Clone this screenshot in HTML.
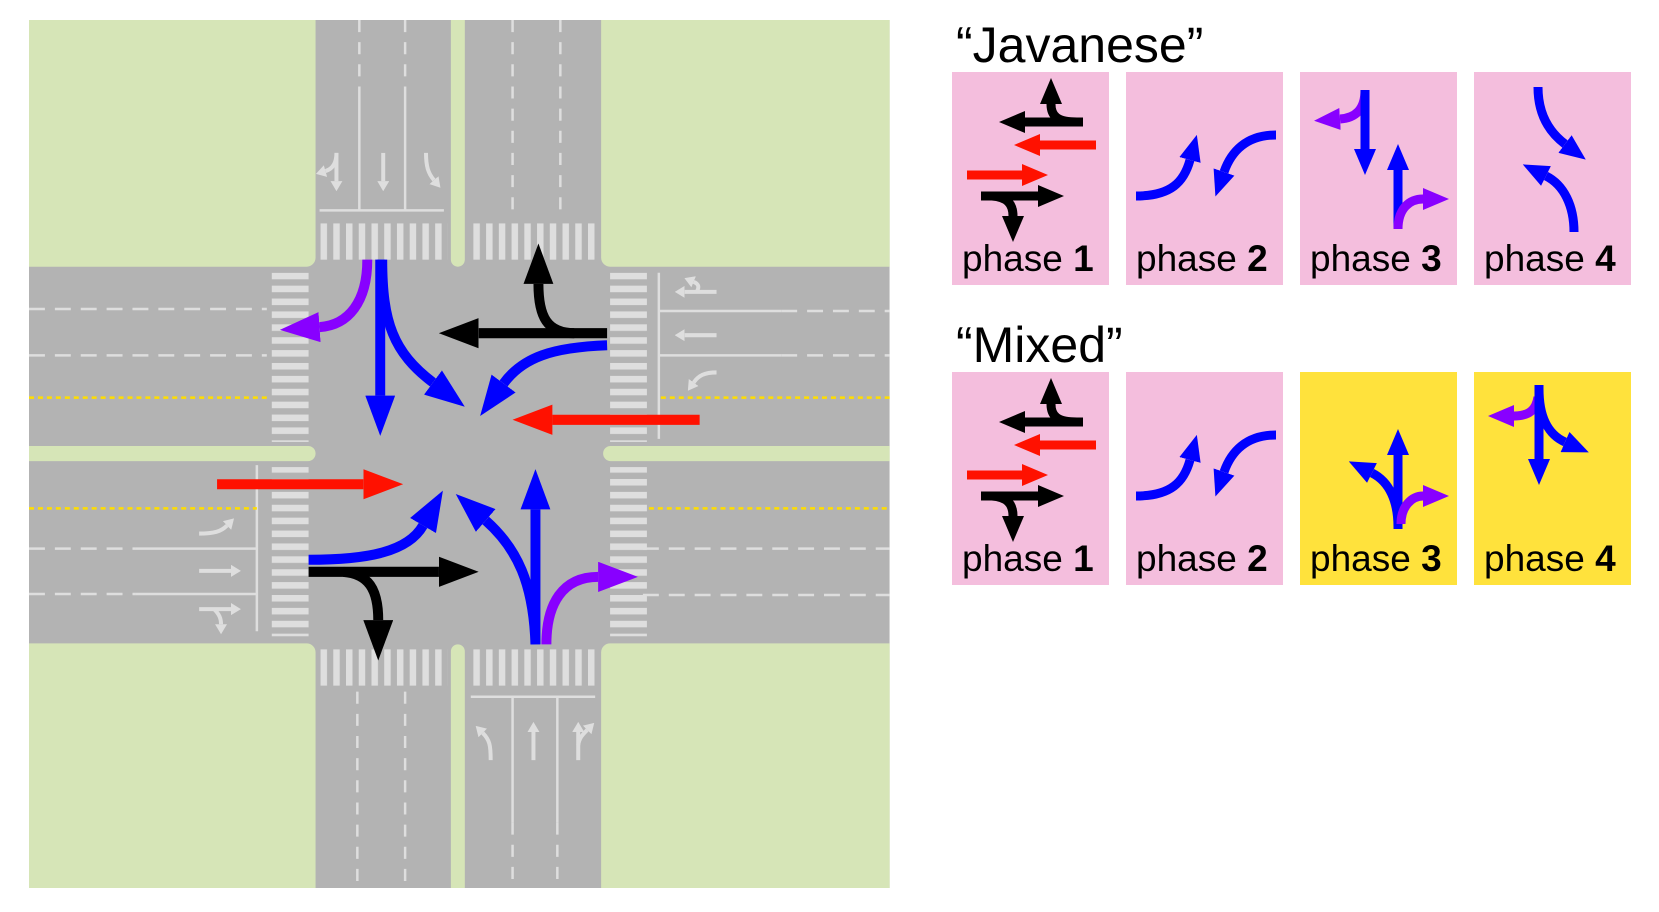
<!DOCTYPE html>
<html><head><meta charset="utf-8"><style>
html,body{margin:0;padding:0;background:#fff;}
svg{display:block;}
text{font-family:"Liberation Sans",sans-serif;}
</style></head><body>
<svg width="1659" height="912" viewBox="0 0 1659 912" xmlns="http://www.w3.org/2000/svg">
<defs>
<clipPath id="cl"><rect x="29" y="20" width="865" height="862"/></clipPath>
<marker id="hb" markerUnits="userSpaceOnUse" markerWidth="40" markerHeight="30" refX="0" refY="15" orient="auto"><path d="M0,0L40,15L0,30z" fill="#0000ff"/></marker>
<marker id="hk" markerUnits="userSpaceOnUse" markerWidth="40" markerHeight="30" refX="0" refY="15" orient="auto"><path d="M0,0L40,15L0,30z" fill="#000"/></marker>
<marker id="hr" markerUnits="userSpaceOnUse" markerWidth="40" markerHeight="30" refX="0" refY="15" orient="auto"><path d="M0,0L40,15L0,30z" fill="#ff1100"/></marker>
<marker id="hp" markerUnits="userSpaceOnUse" markerWidth="40" markerHeight="30" refX="0" refY="15" orient="auto"><path d="M0,0L40,15L0,30z" fill="#8800ff"/></marker>
<marker id="sb" markerUnits="userSpaceOnUse" markerWidth="26" markerHeight="22" refX="0" refY="11" orient="auto"><path d="M0,0L26,11L0,22z" fill="#0000ff"/></marker>
<marker id="sk" markerUnits="userSpaceOnUse" markerWidth="26" markerHeight="22" refX="0" refY="11" orient="auto"><path d="M0,0L26,11L0,22z" fill="#000"/></marker>
<marker id="sr" markerUnits="userSpaceOnUse" markerWidth="26" markerHeight="22" refX="0" refY="11" orient="auto"><path d="M0,0L26,11L0,22z" fill="#ff1100"/></marker>
<marker id="sp" markerUnits="userSpaceOnUse" markerWidth="26" markerHeight="22" refX="0" refY="11" orient="auto"><path d="M0,0L26,11L0,22z" fill="#8800ff"/></marker>
<marker id="gh" markerUnits="userSpaceOnUse" markerWidth="10" markerHeight="12" refX="0" refY="6" orient="auto"><path d="M0,0L10,6L0,12z" fill="#dedede"/></marker>
<pattern id="vs" x="322" y="0" width="12.8" height="10" patternUnits="userSpaceOnUse"><rect x="0" y="0" width="6.5" height="10" fill="#dedede"/></pattern>
<pattern id="hs" x="0" y="271" width="10" height="12.8" patternUnits="userSpaceOnUse"><rect x="0" y="0" width="10" height="6.5" fill="#dedede"/></pattern>
</defs>

<g transform="translate(0.145,-0.14) scale(0.995,1.007)">
<g clip-path="url(#cl)">
<rect x="29" y="20" width="865" height="862" fill="#b3b3b3"/>
<g fill="#d6e5b7">
<rect x="10" y="0" width="307" height="265" rx="9"/>
<rect x="604" y="0" width="310" height="265" rx="9"/>
<rect x="10" y="639" width="307" height="260" rx="9"/>
<rect x="604" y="639" width="310" height="260" rx="9"/>
<rect x="453" y="0" width="14" height="265" rx="7"/>
<rect x="453" y="640" width="14" height="260" rx="7"/>
<rect x="0" y="443" width="317" height="15" rx="7.5"/>
<rect x="606" y="443" width="300" height="15" rx="7.5"/>
</g>
</g>

<rect x="322" y="222" width="128" height="36" fill="url(#vs)"/>
<rect x="475" y="222" width="128" height="36" fill="url(#vs)"/>
<rect x="322" y="645" width="128" height="36" fill="url(#vs)"/>
<rect x="475" y="645" width="128" height="36" fill="url(#vs)"/>
<rect x="273" y="271" width="37" height="168" fill="url(#hs)"/>
<rect x="273" y="464" width="37" height="168" fill="url(#hs)"/>
<rect x="613" y="271" width="37" height="168" fill="url(#hs)"/>
<rect x="613" y="464" width="37" height="168" fill="url(#hs)"/>

<g stroke="#dedede" stroke-width="2.5" fill="none">
<path d="M361,20V87M407,20V87" stroke-dasharray="12,10"/>
<path d="M361,87V208M407,87V208M321,209H446"/>
<path d="M515,20V215M563,20V215" stroke-dasharray="12,10"/>
<path d="M359,687V882M407,687V882" stroke-dasharray="12,10"/>
<path d="M473,692H598M515,692V817M560,692V817"/>
<path d="M515,817V882M560,817V882" stroke-dasharray="12,10"/>
<path d="M29,307H268M29,353H268" stroke-dasharray="16,10"/>
<path d="M785,309H894M785,353H894" stroke-dasharray="16,10"/>
<path d="M662,309H785M662,353H785M662,271V436"/>
<path d="M29,545H136M29,590H136" stroke-dasharray="16,10"/>
<path d="M136,545H257M136,590H257M258,462V627"/>
<path d="M646,545H894M646,591H894" stroke-dasharray="16,10"/>
</g>
<g stroke="#ffdd00" stroke-width="2.5" stroke-dasharray="5,4" fill="none">
<path d="M29,395H268M664,395H894M29,505H258M652,505H894"/>
</g>

<g stroke="#dedede" stroke-width="4" fill="none" marker-end="url(#gh)">
<path d="M338,152V180"/><path d="M338,152C338,162 334,168 327,170"/>
<path d="M385,152V180"/>
<path d="M428,152C428,165 430,172 436,179"/>
<path d="M720,290H688"/><path d="M700,290C703,285 702,282 697,280"/>
<path d="M720,333H688"/>
<path d="M720,370C708,370 702,373 697,380"/>
<path d="M200,530C215,530 222,528 228,522"/>
<path d="M200,567H232"/>
<path d="M200,605H232"/><path d="M215,605C220,610 222,614 222,620"/>
<path d="M493,755C493,740 492,735 485,728"/>
<path d="M536,755V727"/>
<path d="M581,755V727"/><path d="M581,740C582,733 585,730 590,725"/>
</g>

<g fill="none" stroke-width="10">
<path d="M369,258C369,300 350,323 321,325" stroke="#8800ff" marker-end="url(#hp)"/>
<path d="M382,258L382,393" stroke="#0000ff" marker-end="url(#hb)"/>
<path d="M384,258C384,320 395,350 435,380" stroke="#0000ff" marker-end="url(#hb)"/>
<path d="M610,331L481,331" stroke="#000" marker-end="url(#hk)"/>
<path d="M577,331C550,331 541,315 541,282" stroke="#000" marker-end="url(#hk)"/>
<path d="M610,343C555,345 525,355 506,381" stroke="#0000ff" marker-end="url(#hb)"/>
<path d="M703,417L555,417" stroke="#ff1100" marker-end="url(#hr)"/>
<path d="M218,481L365,481" stroke="#ff1100" marker-end="url(#hr)"/>
<path d="M310,556C370,556 410,548 425,522" stroke="#0000ff" marker-end="url(#hb)"/>
<path d="M310,568L441,568" stroke="#000" marker-end="url(#hk)"/>
<path d="M345,568C370,570 380,585 380,616" stroke="#000" marker-end="url(#hk)"/>
<path d="M538,640C536,580 520,545 488,517" stroke="#0000ff" marker-end="url(#hb)"/>
<path d="M538,640L538,506" stroke="#0000ff" marker-end="url(#hb)"/>
<path d="M549,640C549,600 565,573 601,573" stroke="#8800ff" marker-end="url(#hp)"/>
</g>
</g>

<text x="956" y="62" font-size="50" fill="#000">“Javanese”</text>
<text x="956" y="362" font-size="50" fill="#000">“Mixed”</text>

<!-- row 1 -->
<g transform="translate(952,72)">
<rect width="157" height="213" fill="#f4bedd"/>
<g fill="none" stroke-width="9">
<path d="M131,50L73,50" stroke="#000" marker-end="url(#sk)"/>
<path d="M125,50C105,50 99,44 99,32" stroke="#000" marker-end="url(#sk)"/>
<path d="M144,73L88,73" stroke="#ff1100" marker-end="url(#sr)"/>
<path d="M15,103L70,103" stroke="#ff1100" marker-end="url(#sr)"/>
<path d="M29,124L86,124" stroke="#000" marker-end="url(#sk)"/>
<path d="M40,124C55,125 61,132 61,144" stroke="#000" marker-end="url(#sk)"/>
</g>
<text x="10" y="199" font-size="37">phase <tspan font-weight="bold">1</tspan></text>
</g>
<g transform="translate(1126,72)">
<rect width="157" height="213" fill="#f4bedd"/>
<g fill="none" stroke-width="9">
<path d="M10,124C45,124 58,110 64,88" stroke="#0000ff" marker-end="url(#sb)"/>
<path d="M150,63C120,63 105,80 98,100" stroke="#0000ff" marker-end="url(#sb)"/>
</g>
<text x="10" y="199" font-size="37">phase <tspan font-weight="bold">2</tspan></text>
</g>
<g transform="translate(1300,72)">
<rect width="157" height="213" fill="#f4bedd"/>
<g fill="none" stroke-width="9">
<path d="M65,18C65,38 55,46 40,47" stroke="#8800ff" marker-end="url(#sp)"/>
<path d="M65,18L65,77" stroke="#0000ff" marker-end="url(#sb)"/>
<path d="M98,157L98,98" stroke="#0000ff" marker-end="url(#sb)"/>
<path d="M98,157C98,136 110,127 123,127" stroke="#8800ff" marker-end="url(#sp)"/>
</g>
<text x="10" y="199" font-size="37">phase <tspan font-weight="bold">3</tspan></text>
</g>
<g transform="translate(1474,72)">
<rect width="157" height="213" fill="#f4bedd"/>
<g fill="none" stroke-width="9">
<path d="M64,15C64,42 75,60 91,72" stroke="#0000ff" marker-end="url(#sb)"/>
<path d="M100,160C100,134 90,113 72,104" stroke="#0000ff" marker-end="url(#sb)"/>
</g>
<text x="10" y="199" font-size="37">phase <tspan font-weight="bold">4</tspan></text>
</g>

<!-- row 2 -->
<g transform="translate(952,372)">
<rect width="157" height="213" fill="#f4bedd"/>
<g fill="none" stroke-width="9">
<path d="M131,50L73,50" stroke="#000" marker-end="url(#sk)"/>
<path d="M125,50C105,50 99,44 99,32" stroke="#000" marker-end="url(#sk)"/>
<path d="M144,73L88,73" stroke="#ff1100" marker-end="url(#sr)"/>
<path d="M15,103L70,103" stroke="#ff1100" marker-end="url(#sr)"/>
<path d="M29,124L86,124" stroke="#000" marker-end="url(#sk)"/>
<path d="M40,124C55,125 61,132 61,144" stroke="#000" marker-end="url(#sk)"/>
</g>
<text x="10" y="199" font-size="37">phase <tspan font-weight="bold">1</tspan></text>
</g>
<g transform="translate(1126,372)">
<rect width="157" height="213" fill="#f4bedd"/>
<g fill="none" stroke-width="9">
<path d="M10,124C45,124 58,110 64,88" stroke="#0000ff" marker-end="url(#sb)"/>
<path d="M150,63C120,63 105,80 98,100" stroke="#0000ff" marker-end="url(#sb)"/>
</g>
<text x="10" y="199" font-size="37">phase <tspan font-weight="bold">2</tspan></text>
</g>
<g transform="translate(1300,372)">
<rect width="157" height="213" fill="#ffe23c"/>
<g fill="none" stroke-width="9">
<path d="M98,157L98,83" stroke="#0000ff" marker-end="url(#sb)"/>
<path d="M98,155C98,130 90,110 72,101" stroke="#0000ff" marker-end="url(#sb)"/>
<path d="M101,152C101,134 112,124 123,124" stroke="#8800ff" marker-end="url(#sp)"/>
</g>
<text x="10" y="199" font-size="37">phase <tspan font-weight="bold">3</tspan></text>
</g>
<g transform="translate(1474,372)">
<rect width="157" height="213" fill="#ffe23c"/>
<g fill="none" stroke-width="9">
<path d="M64,25C62,38 55,44 40,44" stroke="#8800ff" marker-end="url(#sp)"/>
<path d="M65,13L65,87" stroke="#0000ff" marker-end="url(#sb)"/>
<path d="M65,17C65,46 75,63 91,70" stroke="#0000ff" marker-end="url(#sb)"/>
</g>
<text x="10" y="199" font-size="37">phase <tspan font-weight="bold">4</tspan></text>
</g>
</svg>
</body></html>
